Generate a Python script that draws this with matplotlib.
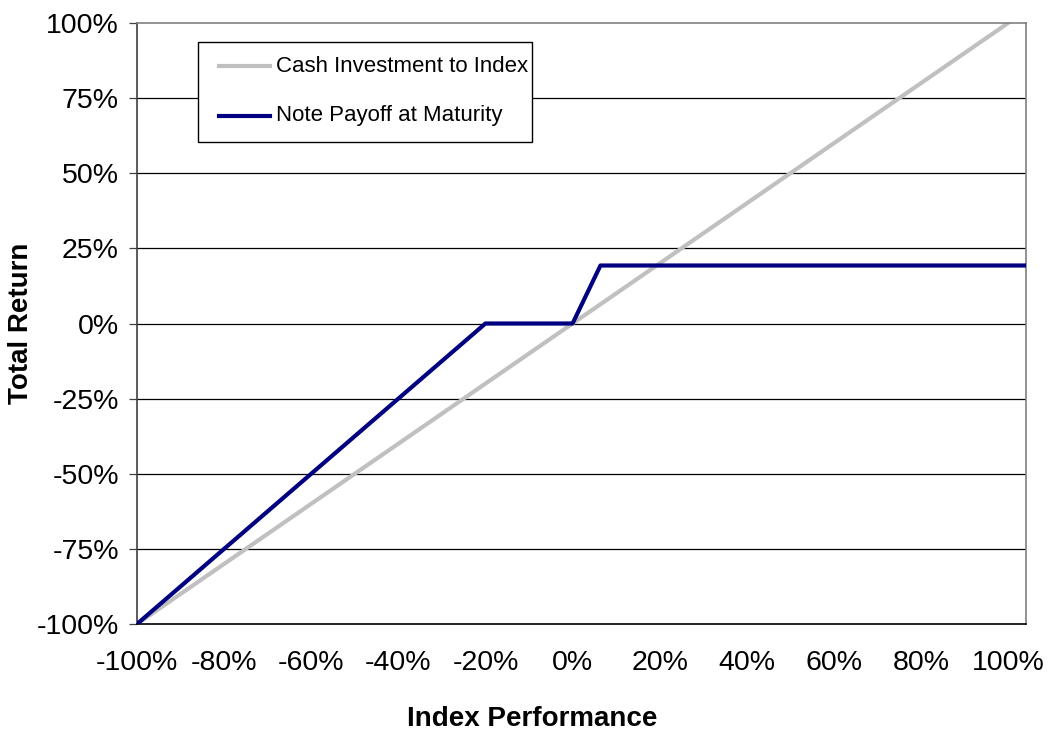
import matplotlib
matplotlib.use("Agg")
import matplotlib.pyplot as plt
from matplotlib.lines import Line2D
from matplotlib.patches import Rectangle

plt.rcParams['font.family'] = ['Liberation Sans', 'DejaVu Sans']

# breakpoints (index performance %, total return %)
cash_x = [-100, 104]
cash_y = [-100, 104]
note_x = [-100, -20, 0, 6.4, 104]
note_y = [-100, 0, 0, 19.3, 19.3]

x_ticks = [-100, -80, -60, -40, -20, 0, 20, 40, 60, 80, 100]
y_ticks = [-100, -75, -50, -25, 0, 25, 50, 75, 100]

labels = ["Cash Investment to Index", "Note Payoff at Maturity"]
gray = "#C0C0C0"
navy = "#000080"

W, H = 1049, 736
fig = plt.figure(figsize=(W / 100, H / 100), dpi=100)


def fx(x):
    return x / W


def fy(y):
    return 1 - y / H


# plot area in pixels: left 137, right 1026, top 23, bottom 624
ax = fig.add_axes([fx(137), fy(624), fx(1026 - 137), (624 - 23) / H])
ax.set_xlim(-100, 104.1)
ax.set_ylim(-100, 100)

for v in y_ticks[1:-1]:
    ax.axhline(v, color="black", lw=0.9, zorder=1)

ax.plot(cash_x, cash_y, color=gray, lw=3.0, zorder=2, solid_capstyle="butt")
ax.plot(note_x, note_y, color=navy, lw=3.0, zorder=3, solid_joinstyle="round")

ax.set_xticks(x_ticks)
ax.set_xticklabels([f"{v}%" for v in x_ticks])
ax.set_yticks(y_ticks)
ax.set_yticklabels([f"{v}%" for v in y_ticks])
ax.tick_params(axis="x", length=0, pad=19, labelsize=20.5)
ax.tick_params(axis="y", length=6, width=0.9, color="#404040", pad=7, labelsize=20.5)

for s in ["top", "right"]:
    ax.spines[s].set_color("#808080")
    ax.spines[s].set_linewidth(1.2)
ax.spines["left"].set_color("#404040")
ax.spines["left"].set_linewidth(1.2)
ax.spines["bottom"].set_color("black")
ax.spines["bottom"].set_linewidth(1.2)

fig.text(fx(532), fy(719), "Index Performance", ha="center", va="center",
         fontsize=20, fontweight="bold")
fig.text(fx(21), fy(323), "Total Return", ha="center", va="center",
         rotation=90, fontsize=20, fontweight="bold")

# legend box drawn by hand to match the layout
box = Rectangle((fx(198), fy(142)), fx(532 - 198), (142 - 42) / H,
                transform=fig.transFigure, facecolor="white",
                edgecolor="black", lw=1.0, zorder=5)
fig.patches.append(box)
rows = [(66, gray), (116, navy)]
for (yy, col), lab in zip(rows, labels):
    fig.lines.append(Line2D([fx(219), fx(270)], [fy(yy), fy(yy)],
                            transform=fig.transFigure, color=col, lw=3.0,
                            zorder=6))
    fig.text(fx(276), fy(yy), lab, ha="left", va="center", fontsize=16,
             zorder=7)

fig.savefig("out.png", dpi=100)
